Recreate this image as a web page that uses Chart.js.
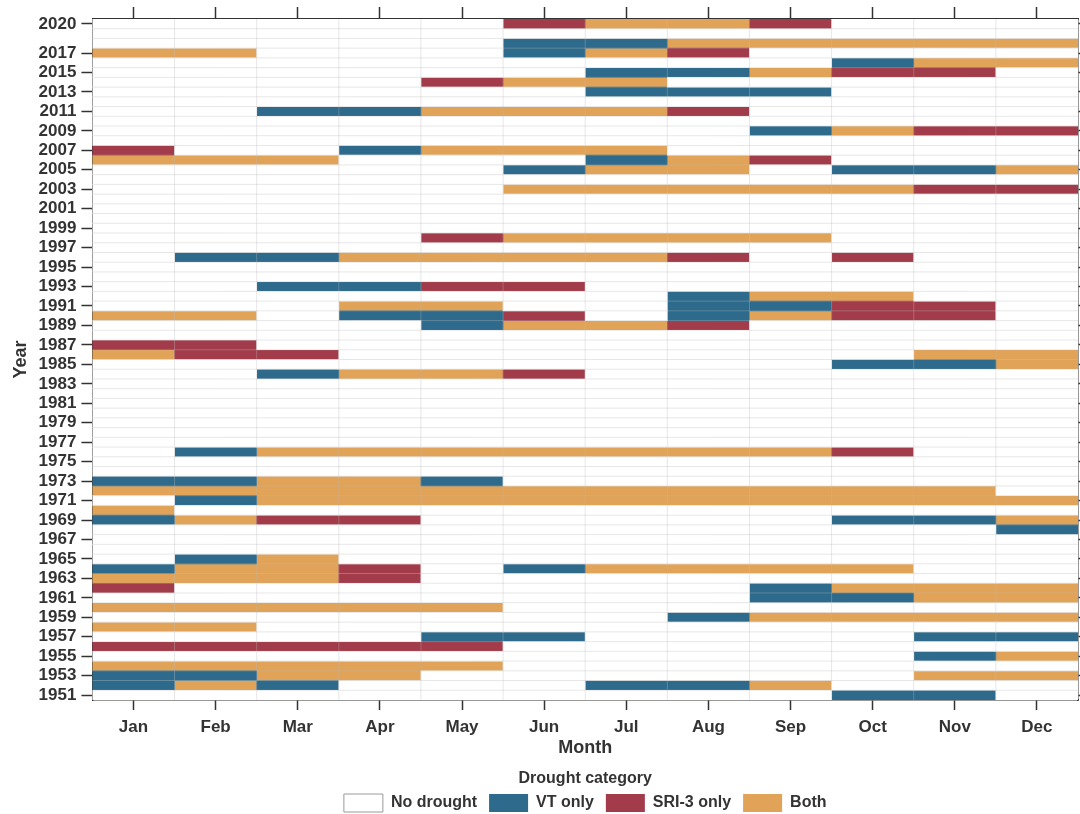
<!DOCTYPE html>
<html>
<head>
<meta charset="utf-8">
<script src="https://cdn.jsdelivr.net/npm/chart.js@4.4.1/dist/chart.umd.min.js"></script>
<style>
  html, body { margin: 0; padding: 0; background: #fff; }
  #wrap { width: 1080px; height: 814px; }
</style>
</head>
<body>
<div id="wrap"><canvas id="chart"></canvas></div>
<script>
const months = ['Jan', 'Feb', 'Mar', 'Apr', 'May', 'Jun', 'Jul', 'Aug', 'Sep', 'Oct', 'Nov', 'Dec'];
const years = [];
for (let yr = 1951; yr <= 2020; yr++) years.push(String(yr));
const categories = ['No drought', 'VT only', 'SRI-3 only', 'Both'];
const colors = ['#ffffff', '#2d6a8b', '#a33c4a', '#e1a357'];

// one string per year (1951 -> 2020), one digit per month Jan..Dec
// 0 = no drought, 1 = VT only, 2 = SRI-3 only, 3 = both
const cells = [
  '000000000110', // 1951
  '131000113000', // 1952
  '113300000033', // 1953
  '333330000000', // 1954
  '000000000013', // 1955
  '222220000000', // 1956
  '000011000011', // 1957
  '330000000000', // 1958
  '000000013333', // 1959
  '333330000000', // 1960
  '000000001133', // 1961
  '200000001333', // 1962
  '333200000000', // 1963
  '133201333300', // 1964
  '013000000000', // 1965
  '000000000000', // 1966
  '000000000000', // 1967
  '000000000001', // 1968
  '132200000113', // 1969
  '300000000000', // 1970
  '013333333333', // 1971
  '333333333330', // 1972
  '113310000000', // 1973
  '000000000000', // 1974
  '000000000000', // 1975
  '013333333200', // 1976
  '000000000000', // 1977
  '000000000000', // 1978
  '000000000000', // 1979
  '000000000000', // 1980
  '000000000000', // 1981
  '000000000000', // 1982
  '000000000000', // 1983
  '001332000000', // 1984
  '000000000113', // 1985
  '322000000033', // 1986
  '220000000000', // 1987
  '000000000000', // 1988
  '000013320000', // 1989
  '330112013220', // 1990
  '000330011220', // 1991
  '000000013300', // 1992
  '001122000000', // 1993
  '000000000000', // 1994
  '000000000000', // 1995
  '011333320200', // 1996
  '000000000000', // 1997
  '000023333000', // 1998
  '000000000000', // 1999
  '000000000000', // 2000
  '000000000000', // 2001
  '000000000000', // 2002
  '000003333322', // 2003
  '000000000000', // 2004
  '000001330113', // 2005
  '333000132000', // 2006
  '200133300000', // 2007
  '000000000000', // 2008
  '000000001322', // 2009
  '000000000000', // 2010
  '001133320000', // 2011
  '000000000000', // 2012
  '000000111000', // 2013
  '000023300000', // 2014
  '000000113220', // 2015
  '000000000133', // 2016
  '330001320000', // 2017
  '000001133333', // 2018
  '000000000000', // 2019
  '000002332000'  // 2020
];

const ink = '#333333';
const fontFamily = '"Liberation Sans", Arial, sans-serif';
const tickFont = { family: fontFamily, weight: 'bold', size: 17 };
const titleFont = { family: fontFamily, weight: 'bold', size: 18 };
const legendFont = { family: fontFamily, weight: 'bold', size: 16 };

// odd years up to 2017, plus 2020, carry a label
const labelled = i => (Number(years[i]) % 2 === 1 && Number(years[i]) < 2019) || years[i] === '2020';

const datasets = categories.map((name, c) => {
  const data = [];
  cells.forEach((row, r) => {
    row.split('').forEach((code, m) => {
      if (Number(code) === c) data.push({ y: years[r], x: [m - 0.5, m + 0.5] });
    });
  });
  return {
    label: name,
    data,
    backgroundColor: colors[c],
    borderWidth: 0,
    grouped: false,
    barPercentage: 1,
    categoryPercentage: 1
  };
});

const monthTicks = scale => { scale.ticks = months.map((m, i) => ({ value: i })); };

// light cell grid drawn on top of the tiles
const cellGrid = {
  id: 'cellGrid',
  afterDatasetsDraw(chart) {
    const { ctx, chartArea: a, scales: { x, y } } = chart;
    ctx.save();
    ctx.strokeStyle = 'rgba(185,185,185,0.35)';
    ctx.lineWidth = 1;
    ctx.beginPath();
    for (let m = 1; m < months.length; m++) {
      const px = x.getPixelForValue(m - 0.5);
      ctx.moveTo(px, a.top);
      ctx.lineTo(px, a.bottom);
    }
    for (let i = 1; i < years.length; i++) {
      const py = y.getPixelForValue(i - 0.5);
      ctx.moveTo(a.left, py);
      ctx.lineTo(a.right, py);
    }
    ctx.stroke();
    ctx.restore();
  }
};

const axisBorder = { color: ink, width: 1.5 };

new Chart(document.getElementById('chart'), {
  type: 'bar',
  data: { labels: years, datasets },
  plugins: [cellGrid],
  options: {
    indexAxis: 'y',
    responsive: true,
    maintainAspectRatio: false,
    animation: false,
    layout: { padding: { left: 10, top: 7, right: 0, bottom: -8 } },
    scales: {
      x: {
        type: 'linear', position: 'bottom', min: -0.5, max: 11.5,
        afterBuildTicks: monthTicks,
        ticks: { callback: v => months[v], color: ink, font: tickFont, padding: 7, autoSkip: false, maxRotation: 0 },
        grid: { drawOnChartArea: false, tickLength: 10, tickColor: ink, tickWidth: 1.5 },
        border: axisBorder,
        title: { display: true, text: 'Month', color: ink, font: titleFont, padding: { top: -7, bottom: 4.4 } }
      },
      xTop: {
        type: 'linear', position: 'top', min: -0.5, max: 11.5,
        afterBuildTicks: monthTicks,
        ticks: { display: false },
        grid: { drawOnChartArea: false, tickLength: 12, tickColor: ink, tickWidth: 1.5 },
        border: axisBorder
      },
      y: {
        type: 'category', position: 'left', reverse: true, offset: true,
        ticks: { autoSkip: false, callback: v => labelled(v) ? years[v] : '', color: ink, font: tickFont, padding: 5 },
        grid: { offset: false, drawOnChartArea: false, tickLength: 11, tickWidth: 1.5,
                tickColor: c => labelled(c.index) ? ink : 'rgba(0,0,0,0)' },
        border: axisBorder,
        title: { display: true, text: 'Year', color: ink, font: titleFont, padding: { top: 0, bottom: 2 } }
      },
      yRight: {
        type: 'category', labels: years, position: 'right', reverse: true, offset: true,
        ticks: { display: false },
        grid: { offset: false, drawOnChartArea: false, tickLength: 2, tickWidth: 1.5,
                tickColor: c => labelled(c.index) ? ink : 'rgba(0,0,0,0)' },
        border: axisBorder
      }
    },
    plugins: {
      tooltip: { enabled: false },
      legend: {
        position: 'bottom',
        fullSize: false,
        title: { display: true, text: 'Drought category', color: ink, font: legendFont, padding: { top: 7, bottom: -7.6 } },
        labels: {
          color: ink, font: legendFont,
          boxWidth: 39, boxHeight: 18, padding: 12,
          generateLabels: chart => Chart.defaults.plugins.legend.labels.generateLabels(chart).map((it, i) =>
            Object.assign(it, { strokeStyle: i === 0 ? '#9a9a9a' : it.fillStyle, lineWidth: i === 0 ? 1 : 0 }))
        }
      }
    }
  }
});
</script>
</body>
</html>
